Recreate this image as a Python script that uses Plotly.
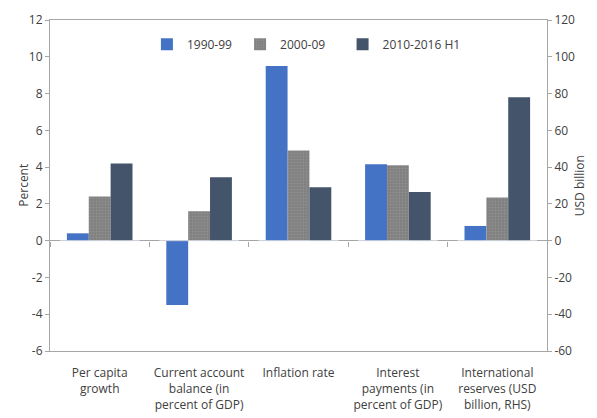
import plotly.graph_objects as go

# ── Data ────────────────────────────────────────────────────────────

categories = [
    "Per capita<br>growth",
    "Current account<br>balance (in<br>percent of GDP)",
    "Inflation rate",
    "Interest<br>payments (in<br>percent of GDP)",
    "International<br>reserves (USD<br>billion, RHS)",
]
series_names = ["1990-99", "2000-09", "2010-2016 H1"]

# first four categories in percent (left axis), last one in USD billion (right axis)
s1990 = [0.4, -3.5, 9.5, 4.15, 8.0]
s2000 = [2.4, 1.6, 4.9, 4.1, 23.5]
s2010 = [4.2, 3.45, 2.9, 2.65, 78.0]

left_ticks = [-6, -4, -2, 0, 2, 4, 6, 8, 10, 12]
right_ticks = [-60, -40, -20, 0, 20, 40, 60, 80, 100, 120]

COLORS = ["#4472C4", "#808080", "#44546A"]
OFFSETS = [-0.33, -0.11, 0.11]
WIDTH = 0.22
AXIS_COLOR = "#A6A6A6"
TEXT_COLOR = "#404040"
FONT = "Open Sans, Liberation Sans, sans-serif"
# trailing padding to space legend entries like the original
LEGEND_PAD = ["&nbsp;", "&nbsp;&nbsp;&nbsp;&nbsp;", ""]

fig = go.Figure()

for name, vals, color, off, pad in zip(series_names, [s1990, s2000, s2010], COLORS, OFFSETS, LEGEND_PAD):
    marker = dict(color=color, line=dict(width=0))
    if name == "2000-09":
        marker["pattern"] = dict(shape=".", fgcolor="#A0A0A0", bgcolor=color, size=3, solidity=0.3)
    fig.add_trace(go.Bar(
        x=categories[:4], y=vals[:4],
        name=name + pad, marker=marker,
        width=WIDTH, offset=off,
        yaxis="y", legendgroup=name,
    ))
    fig.add_trace(go.Bar(
        x=categories[4:], y=vals[4:],
        name=name, marker=marker,
        width=WIDTH, offset=off,
        yaxis="y2", legendgroup=name, showlegend=False,
    ))

# zero-height trace so the tick axis at the zero line gets drawn
fig.add_trace(go.Bar(x=categories, y=[0] * 5, xaxis="x2", yaxis="y",
                     showlegend=False, hoverinfo="skip", marker=dict(color="rgba(0,0,0,0)")))

fig.update_layout(
    width=597, height=418,
    paper_bgcolor="white", plot_bgcolor="white",
    margin=dict(l=50, r=50, t=20, b=67),
    font=dict(family=FONT, size=12, color=TEXT_COLOR),
    barmode="overlay",
    showlegend=True,
    legend=dict(
        orientation="h", x=0.195, y=0.927, xanchor="left", yanchor="middle",
        bgcolor="rgba(0,0,0,0)", font=dict(size=12, color=TEXT_COLOR),
        itemwidth=30,
    ),
    xaxis=dict(
        type="category", categoryorder="array", categoryarray=categories,
        showline=True, linecolor=AXIS_COLOR, mirror=True, automargin=False,
        showgrid=False, ticks="", tickfont=dict(size=12, color=TEXT_COLOR),
        range=[-0.5, 4.5], ticklabelstandoff=11,
    ),
    xaxis2=dict(
        overlaying="x", anchor="free", position=1 / 3,
        side="bottom", showticklabels=False, showline=False, automargin=False,
        ticks="outside", tickson="boundaries", ticklen=5, tickcolor=AXIS_COLOR, tickwidth=1,
        showgrid=False, type="category", categoryorder="array", categoryarray=categories,
        range=[-0.5, 4.5],
    ),
    yaxis=dict(
        range=[-6, 12], tickvals=left_ticks, ticktext=[str(v) for v in left_ticks],
        showgrid=False, automargin=False,
        showline=True, linecolor=AXIS_COLOR, ticks="outside", ticklen=4, tickcolor=AXIS_COLOR,
        zeroline=True, zerolinecolor=AXIS_COLOR, zerolinewidth=1,
        tickfont=dict(size=12, color=TEXT_COLOR),
    ),
    yaxis2=dict(
        range=[-60, 120], tickvals=right_ticks, ticktext=[str(v) for v in right_ticks],
        overlaying="y", side="right", automargin=False,
        showgrid=False, showline=True, linecolor=AXIS_COLOR,
        ticks="outside", ticklen=4, tickcolor=AXIS_COLOR, zeroline=False,
        tickfont=dict(size=12, color=TEXT_COLOR),
    ),
    annotations=[
        dict(text="Percent", xref="paper", yref="paper", x=-0.075, y=0.5,
             textangle=-90, showarrow=False, font=dict(size=12, color=TEXT_COLOR)),
        dict(text="USD billion", xref="paper", yref="paper", x=1.087, y=0.5,
             textangle=-90, showarrow=False, font=dict(size=12, color=TEXT_COLOR)),
    ],
)

# drop the browser's default body margin so the figure sits at the page origin
fig.write_html("out.html", config={"displayModeBar": False},
               post_script="document.body.style.margin='0';")
